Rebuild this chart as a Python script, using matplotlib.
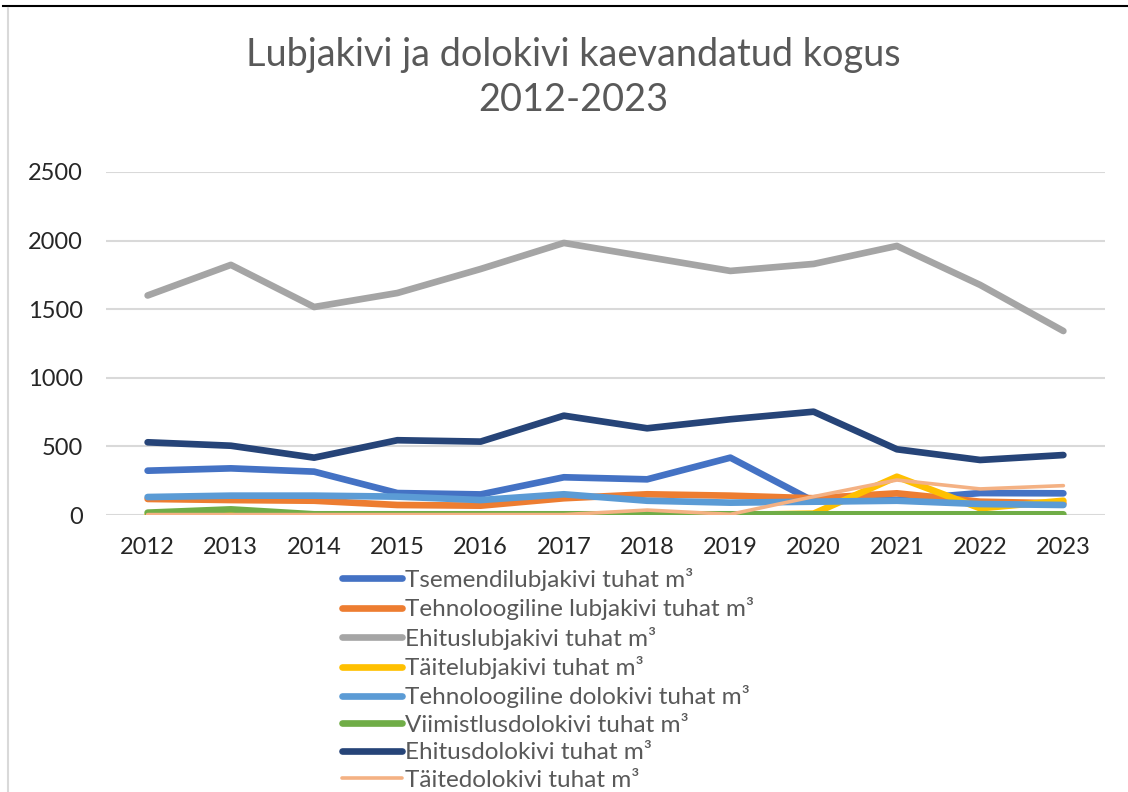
#line chart of limestone and dolomite extraction 2012-2023
import matplotlib.pyplot as plt
from matplotlib.lines import Line2D

plt.rcParams['font.family'] = ['Lato', 'DejaVu Sans']

#data (thousand m3)
years = [2012, 2013, 2014, 2015, 2016, 2017, 2018, 2019, 2020, 2021, 2022, 2023]
tsemendi = [323, 340, 316, 160, 150, 275, 260, 418, 100, 110, 160, 158]
tehn_lubja = [117, 109, 104, 73, 68, 122, 151, 141, 122, 158, 97, 85]
ehitus_lubja = [1600, 1823, 1516, 1618, 1793, 1983, 1881, 1779, 1830, 1961, 1677, 1341]
taite_lubja = [0, 0, 0, 0, 0, 0, 0, 0, 10, 279, 49, 104]
tehn_dolo = [131, 141, 141, 134, 109, 151, 104, 90, 97, 104, 80, 73]
viimistlus = [17, 41, 5, 5, 5, 5, 5, 5, 5, 5, 5, 5]
ehitus_dolo = [530, 505, 418, 545, 535, 724, 632, 698, 753, 479, 401, 437]
taite_dolo = [3, 3, 3, 3, 3, 3, 36, 5, 134, 255, 190, 214]

labels = ["Tsemendilubjakivi tuhat m³", "Tehnoloogiline lubjakivi tuhat m³",
          "Ehituslubjakivi tuhat m³", "Täitelubjakivi tuhat m³",
          "Tehnoloogiline dolokivi tuhat m³", "Viimistlusdolokivi tuhat m³",
          "Ehitusdolokivi tuhat m³", "Täitedolokivi tuhat m³"]
series = [tsemendi, tehn_lubja, ehitus_lubja, taite_lubja,
          tehn_dolo, viimistlus, ehitus_dolo, taite_dolo]
colors = ["#4472C4", "#ED7D31", "#A5A5A5", "#FFC000",
          "#5B9BD5", "#70AD47", "#264478", "#F4B183"]
widths = [4.8, 4.8, 4.8, 4.8, 4.8, 4.8, 4.8, 2.6]

fig = plt.figure(figsize=(11.28, 7.92), dpi=100)
ax = fig.add_axes([106/1128, 1-515/792, 999/1128, 343/792])

for vals, lab, c, w in zip(series, labels, colors, widths):
    ax.plot(years, vals, color=c, lw=w, label=lab,
            solid_capstyle='round', solid_joinstyle='round')

ax.set_xlim(2011.5, 2023.5)
ax.set_ylim(0, 2500)
ax.set_yticks([0, 500, 1000, 1500, 2000, 2500])
ax.set_xticks(years)
ax.grid(axis='y', color='#D9D9D9', lw=1.5)
ax.set_axisbelow(True)
for s in ax.spines.values():
    s.set_visible(False)
ax.tick_params(length=0, labelsize=17, colors='#262626')
ax.tick_params(axis='y', pad=16.5)
ax.tick_params(axis='x', pad=16)

fig.text(573/1128, 1-55/792, "Lubjakivi ja dolokivi kaevandatud kogus",
         ha='center', va='center', fontsize=27.3, color='#595959')
fig.text(573/1128, 1-100/792, "2012-2023",
         ha='center', va='center', fontsize=27.3, color='#595959')

fig.legend(loc='upper left', bbox_to_anchor=(332/1128, 1-558/792),
           frameon=False, fontsize=17.5, handlelength=2.5, handletextpad=0.12,
           labelspacing=0.265, borderaxespad=0, labelcolor='#595959')

#chart border pieces visible in the screenshot
fig.add_artist(Line2D([3/1128, 1], [1-6/792, 1-6/792], color='black', lw=1.5))
fig.add_artist(Line2D([8/1128, 8/1128], [0, 1-8/792], color='#D9D9D9', lw=1.5))

fig.savefig("out.png", dpi=100)
